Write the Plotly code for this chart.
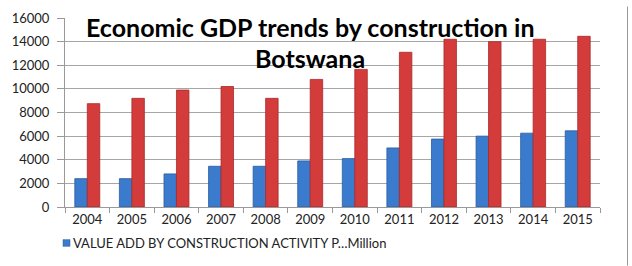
import plotly.graph_objects as go

years = ["2004", "2005", "2006", "2007", "2008", "2009", "2010", "2011", "2012", "2013", "2014", "2015"]
value_add = [2400, 2400, 2800, 3450, 3450, 3900, 4100, 5000, 5750, 6000, 6250, 6450]
gdp_total = [8750, 9200, 9900, 10200, 9200, 10800, 11650, 13100, 14200, 14000, 14200, 14450]
series_blue = "VALUE ADD BY CONSTRUCTION ACTIVITY P…Million"
series_red = "GDP"
title_lines = ["Economic GDP trends by construction in", "Botswana"]
y_ticks = [0, 2000, 4000, 6000, 8000, 10000, 12000, 14000, 16000]

FONT = "Lato"
BLUE = "#3B7BCD"
RED = "#D43B3B"

W, H = 632, 266
L, R, T, B = 65, 32, 10, 59
PW, PH = W - L - R, H - T - B


def px(x):
    return (x - L) / PW


def py(y):
    return (H - B - y) / PH


fig = go.Figure()
fig.add_trace(go.Bar(
    x=years, y=value_add, name=series_blue, showlegend=False,
    marker=dict(color=BLUE, line=dict(color="#2A5C9E", width=0.8)),
))
fig.add_trace(go.Bar(
    x=years, y=gdp_total, name=series_red, showlegend=False,
    marker=dict(color=RED, line=dict(color="#A82A2A", width=0.8)),
))

annotations = [
    dict(text=title_lines[0], xref="paper", yref="paper", x=px(310), y=py(19),
         xanchor="center", yanchor="middle", showarrow=False,
         font=dict(family=FONT, size=25, color="#000000", weight="bold")),
    dict(text=title_lines[1], xref="paper", yref="paper", x=px(310), y=py(52),
         xanchor="center", yanchor="middle", showarrow=False,
         font=dict(family=FONT, size=25, color="#000000", weight="bold")),
    dict(text=series_blue, xref="paper", yref="paper", x=px(71), y=py(244.5),
         xanchor="left", yanchor="middle", showarrow=False,
         font=dict(family=FONT, size=13, color="#222222")),
]
shapes = [
    dict(type="line", xref="paper", yref="paper", x0=px(627.5), x1=px(627.5),
         y0=py(H + 2), y1=py(-2), line=dict(color="#999999", width=1)),
    dict(type="rect", xref="paper", yref="paper", x0=px(63), x1=px(70),
         y0=py(248), y1=py(241), fillcolor=BLUE, line=dict(color="#2A5C9E", width=0.5)),
]

fig.update_layout(
    width=W, height=H,
    margin=dict(l=L, r=R, t=T, b=B),
    paper_bgcolor="white", plot_bgcolor="white",
    barmode="group", bargap=0.44, bargroupgap=0,
    font=dict(family=FONT, size=13, color="#222222"),
    showlegend=False,
    annotations=annotations,
    shapes=shapes,
)
fig.update_xaxes(
    type="category", showline=True, linecolor="#999999", linewidth=1,
    ticks="outside", tickson="boundaries", ticklen=5, tickcolor="#999999",
    showgrid=False, tickfont=dict(family=FONT, size=13, color="#222222"),
)
fig.update_yaxes(
    range=[0, 16000], tickvals=y_ticks, tickformat="d",
    showline=True, linecolor="#999999", linewidth=1,
    ticks="outside", ticklen=7, tickcolor="#999999", ticklabelstandoff=5,
    showgrid=True, gridcolor="#A6A6A6", gridwidth=1, zeroline=False,
    tickfont=dict(family=FONT, size=13, color="#222222"),
)

fig.write_html("out.html")
